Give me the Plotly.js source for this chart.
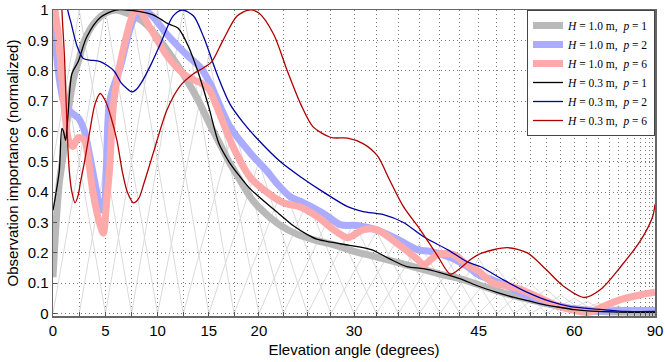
<!DOCTYPE html>
<html><head><meta charset="utf-8">
<script src="https://cdn.plot.ly/plotly-3.0.1.min.js"></script>
<style>html,body{margin:0;padding:0;background:#fff}#chart{width:665px;height:362px}</style>
</head><body><div id="chart"></div>
<script>
// ---- data (elevation in degrees, importance normalized) ----
const tickLabels = [0, 5, 10, 15, 20, 30, 45, 60, 90];
const gridNodes = [0,2.5,5,7.5,10,12.5,15,17.5,20,22.5,25,27.5,30,32.5,35,37.5,40,42.5,45,47.5,50,52.5,55,57.5,60,62.5,65,67.5,70,72.5,75,77.5,80,82.5,85,87.5,90];
const tentHeights = [1,1,1,1,1,1,0.85,0.62,0.5,0.42,0.37,0.33,0.3,0.27,0.25,0.23,0.22,0.2,0.18,0.15,0.12,0.1,0.08,0.06,0.05,0.04,0.035,0.03,0.025,0.02,0.02,0.02,0.02,0.02,0.02,0.02,0.02];
const yTicks = [0,0.1,0.2,0.3,0.4,0.5,0.6,0.7,0.8,0.9,1];

const g1E = [0,0.3,0.6,1,1.5,2,2.5,3,4,5,6,7,8,9,10,11,12,13,14,15,16,17,18,19,20,22,24,26,28,30,32,34,36,38,40,42.5,45,47.5,50,52.5,55,57.5,60,65,70,80,90];
const g1V = [0.12,0.3,0.43,0.53,0.68,0.78,0.84,0.9,0.96,0.99,1.0,0.99,0.975,0.95,0.91,0.865,0.815,0.76,0.70,0.63,0.565,0.5,0.445,0.39,0.35,0.295,0.26,0.24,0.225,0.205,0.19,0.175,0.16,0.145,0.13,0.115,0.095,0.075,0.058,0.045,0.033,0.023,0.016,0.008,0.005,0.004,0.004];

const b1E = [0,0.5,1,1.5,2.5,3,3.5,4,4.5,4.8,5.1,5.4,6.4,7.7,8.6,9.5,10.9,12.9,14.2,15.1,17.1,19.1,20.8,21.8,23.2,24.6,26.7,28.5,30.4,32.6,34.9,37.3,38.8,41.3,43.5,45.2,47,50,52,57.5,64,70,90];
const b1V = [0.98,0.8,0.7,0.67,0.64,0.6,0.52,0.43,0.35,0.34,0.5,0.7,0.81,0.97,1.0,0.98,0.92,0.85,0.81,0.76,0.615,0.53,0.47,0.43,0.385,0.365,0.33,0.293,0.29,0.275,0.245,0.21,0.205,0.185,0.155,0.125,0.11,0.08,0.056,0.023,0.008,0.01,0.01];

const p1E = [0,0.2,0.5,1.1,1.5,1.9,2.4,3.0,3.4,3.8,4.5,4.8,5.1,5.4,5.8,6.7,7.7,8.2,9.3,10.9,11.9,12.9,14.2,15.0,15.8,17.4,19.1,20.8,22.5,24.3,26,27.8,29.3,31,32.6,34.9,37.3,38,39.7,41.7,43.5,45,47,49.5,52,54.6,57,59.3,62.7,66,70.5,77.6,90];
const p1V = [1.1,1.0,0.92,0.67,0.57,0.55,0.58,0.57,0.5,0.4,0.29,0.265,0.365,0.48,0.7,0.87,0.99,1.0,0.94,0.85,0.81,0.78,0.76,0.74,0.68,0.55,0.45,0.4,0.365,0.35,0.32,0.276,0.25,0.276,0.276,0.23,0.178,0.16,0.195,0.194,0.16,0.14,0.1,0.09,0.07,0.046,0.025,0.013,0.004,0.023,0.046,0.062,0.07];

const k3E = [0,0.3,0.6,0.85,1.0,1.2,1.4,1.8,2.4,3.2,4.5,6,7,8.3,9.5,10.3,11,12,13,14,15,16,17,18,19,20,22,23.5,25,26,27.5,29.5,32,34,36,38,40,42.5,45,47.5,50,52.5,55,57.5,60,65,70,80,90];
const k3V = [0.34,0.40,0.47,0.61,0.6,0.57,0.64,0.79,0.83,0.91,0.975,1.0,1.0,0.995,0.985,0.97,0.955,0.94,0.88,0.79,0.68,0.56,0.5,0.455,0.415,0.385,0.33,0.29,0.26,0.245,0.235,0.225,0.21,0.18,0.155,0.148,0.135,0.115,0.09,0.07,0.053,0.04,0.028,0.02,0.013,0.007,0.005,0.004,0.004];

const n3E = [0,0.5,1.0,1.4,1.7,2.3,2.9,3.5,4.5,5.8,6.5,7.1,7.5,8.0,8.6,9.5,10.3,11.5,12.4,13.5,14.5,15.8,17.1,18.4,20,22.2,24.3,26.7,29.3,31,33.3,35.6,38,41,43.5,45.2,48.5,52,55.7,59.3,66,72,90];
const n3V = [1.8,1.4,1.15,1.0,0.96,0.88,0.84,0.835,0.83,0.8,0.76,0.74,0.73,0.74,0.77,0.83,0.89,0.98,1.0,0.98,0.91,0.79,0.69,0.63,0.57,0.5,0.45,0.4,0.352,0.336,0.326,0.3,0.253,0.21,0.17,0.155,0.11,0.07,0.04,0.023,0.013,0.007,0.007];

const r3E = [0,0.5,0.85,1.1,1.35,1.55,1.8,2.1,2.4,2.6,3.0,3.5,4.0,4.5,5.0,5.5,6.1,6.6,7.1,7.7,8.2,8.7,9.6,10.9,12.2,13.5,14.5,15.3,16.4,17.8,19,20,21.5,22.9,24.3,25.6,27.5,29.3,31,32.6,34,35.6,37.6,39.7,41.3,42.6,44,45.5,49,52,55,58,62,65.5,70.6,77.6,85,90];
const r3V = [2.0,1.4,1.0,0.84,0.6,0.47,0.40,0.365,0.39,0.43,0.5,0.6,0.69,0.725,0.7,0.65,0.57,0.47,0.4,0.365,0.38,0.43,0.53,0.67,0.75,0.79,0.81,0.83,0.9,0.98,1.0,0.99,0.92,0.8,0.69,0.615,0.58,0.578,0.56,0.52,0.44,0.352,0.276,0.19,0.13,0.15,0.18,0.2,0.217,0.2,0.145,0.09,0.053,0.08,0.155,0.243,0.32,0.36];

const names = ['<i>H</i> = 1.0 m,  <i>p</i> = 1','<i>H</i> = 1.0 m,  <i>p</i> = 2','<i>H</i> = 1.0 m,  <i>p</i> = 6',
               '<i>H</i> = 0.3 m,  <i>p</i> = 1','<i>H</i> = 0.3 m,  <i>p</i> = 2','<i>H</i> = 0.3 m,  <i>p</i> = 6'];

// ---- build ----
const S = e => Math.sin(e*Math.PI/180);
const tx = [], ty = [];
for (let i = 0; i < gridNodes.length; i++) {
  const h = tentHeights[i];
  const lo = gridNodes[Math.max(0, i-2)], hi = gridNodes[Math.min(gridNodes.length-1, i+2)];
  const e0 = gridNodes[i];
  const yLo = i-2 < 0 ? h*(1 - (e0-lo)/(2*2.5)) : 0;
  const yHi = i+2 > gridNodes.length-1 ? h*(1 - (hi-e0)/(2*2.5)) : 0;
  tx.push(S(lo), S(e0), S(hi), null); ty.push(yLo, h, yHi, null);
}
const traces = [{x: tx, y: ty, mode:'lines', line:{color:'rgb(218,218,218)', width:1}, showlegend:false, hoverinfo:'skip'}];
const series = [
  [g1E,g1V,'rgb(185,185,185)',7],
  [b1E,b1V,'rgb(172,172,255)',7],
  [p1E,p1V,'rgb(255,170,170)',7],
  [k3E,k3V,'rgb(0,0,0)',1.3],
  [n3E,n3V,'rgb(0,0,160)',1.3],
  [r3E,r3V,'rgb(175,0,0)',1.3]
];
series.forEach((s,i)=>traces.push({x:s[0].map(S), y:s[1], mode:'lines', name:names[i],
  line:{color:s[2], width:s[3], shape:'spline', smoothing:0.8}}));

const gridStyle = {showgrid:true, gridcolor:'rgb(120,120,120)', griddash:'1px,3px', gridwidth:1};
const layout = {
  width:665, height:362, margin:{l:53,r:10,t:10,b:46},
  paper_bgcolor:'#fff', plot_bgcolor:'#fff',
  font:{family:'Liberation Sans, Arial, sans-serif', size:15, color:'#000'},
  xaxis:Object.assign({range:[0,1], tickmode:'array', tickvals:gridNodes.map(S),
    ticktext:gridNodes.map(e=>tickLabels.includes(e)?String(e):''),
    ticks:'inside', ticklen:4, tickcolor:'#555', showline:true, linecolor:'#666', linewidth:1.5, mirror:true,
    zeroline:false, title:{text:'Elevation angle (degrees)', standoff:7, font:{size:15}}}, gridStyle),
  yaxis:Object.assign({range:[-0.008,1.0], tickmode:'array', tickvals:yTicks, ticktext:yTicks.map(String),
    ticks:'inside', ticklen:4, tickcolor:'#555', showline:true, linecolor:'#666', linewidth:1.5, mirror:true,
    zeroline:false, title:{text:'Observation importance (normalized)', standoff:5, font:{size:15}}}, gridStyle),
  legend:{x:1, y:1, xanchor:'right', yanchor:'top', bgcolor:'#fff', bordercolor:'#444', borderwidth:1,
    font:{family:'Liberation Serif, serif', size:11.5}, itemwidth:30, tracegroupgap:0},
  showlegend:true
};
Plotly.newPlot('chart', traces, layout, {staticPlot:true});
</script></body></html>
